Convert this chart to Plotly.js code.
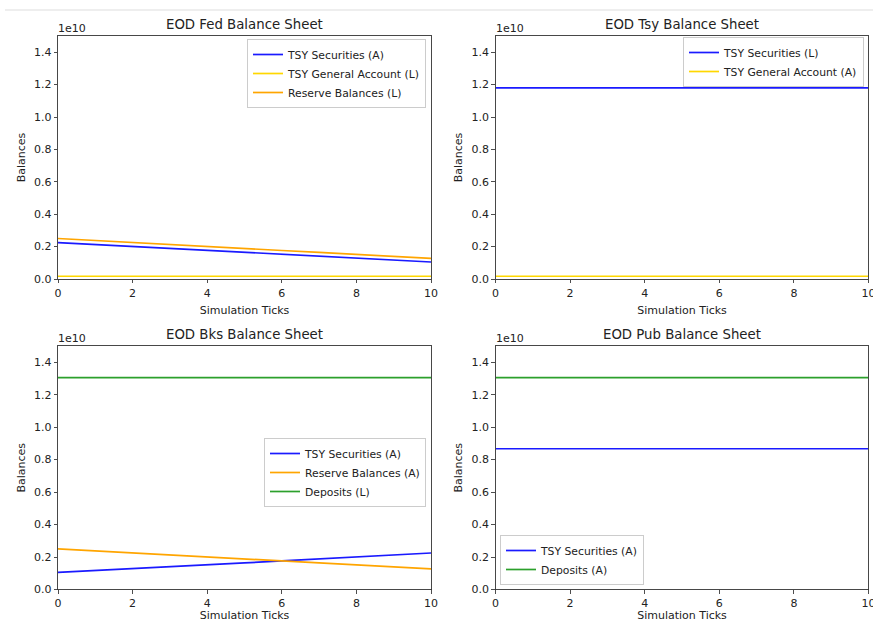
<!DOCTYPE html>
<html>
<head>
<meta charset="utf-8">
<script src="https://cdn.plot.ly/plotly-3.0.1.min.js"></script>
<style>html,body{margin:0;padding:0;background:#fff;}#chart{width:873px;height:622px;}</style>
</head>
<body>
<div id="chart"></div>
<script>
// ---- data ----
const ticks = [0,1,2,3,4,5,6,7,8,9,10];

const fedTsySecurities = [2.25e9,2.13e9,2.01e9,1.89e9,1.76e9,1.64e9,1.52e9,1.40e9,1.28e9,1.16e9,1.05e9];
const fedTga          = [1.7e8,1.7e8,1.7e8,1.7e8,1.7e8,1.7e8,1.7e8,1.7e8,1.7e8,1.7e8,1.7e8];
const fedReserves     = [2.50e9,2.37e9,2.25e9,2.13e9,2.01e9,1.89e9,1.76e9,1.64e9,1.52e9,1.40e9,1.27e9];

const tsyTsySecurities = [1.18e10,1.18e10,1.18e10,1.18e10,1.18e10,1.18e10,1.18e10,1.18e10,1.18e10,1.18e10,1.18e10];
const tsyTga           = [1.7e8,1.7e8,1.7e8,1.7e8,1.7e8,1.7e8,1.7e8,1.7e8,1.7e8,1.7e8,1.7e8];

const bksTsySecurities = [1.05e9,1.16e9,1.28e9,1.40e9,1.52e9,1.64e9,1.76e9,1.89e9,2.01e9,2.13e9,2.25e9];
const bksReserves      = [2.50e9,2.37e9,2.25e9,2.13e9,2.01e9,1.89e9,1.76e9,1.64e9,1.52e9,1.40e9,1.27e9];
const bksDeposits      = [1.305e10,1.305e10,1.305e10,1.305e10,1.305e10,1.305e10,1.305e10,1.305e10,1.305e10,1.305e10,1.305e10];

const pubTsySecurities = [8.67e9,8.67e9,8.67e9,8.67e9,8.67e9,8.67e9,8.67e9,8.67e9,8.67e9,8.67e9,8.67e9];
const pubDeposits      = [1.305e10,1.305e10,1.305e10,1.305e10,1.305e10,1.305e10,1.305e10,1.305e10,1.305e10,1.305e10,1.305e10];

const yTickVals = [0,2e9,4e9,6e9,8e9,10e9,12e9,14e9];
const yTickText = ['0.0','0.2','0.4','0.6','0.8','1.0','1.2','1.4'];
const xTickVals = [0,2,4,6,8,10];
const panelTitles = ['EOD Fed Balance Sheet','EOD Tsy Balance Sheet','EOD Bks Balance Sheet','EOD Pub Balance Sheet'];

// ---- styles ----
const BLUE='#1a1aff', GOLD='#ffd700', ORANGE='#ffa500', GREEN='#2ca02c';
const W=873, H=622;
const FAM='DejaVu Sans, sans-serif', TXT='#222';

function tr(y, name, color, xa, ya, leg){
  return {x:ticks, y:y, name:name, type:'scatter', mode:'lines',
    line:{color:color, width:1.7}, xaxis:xa, yaxis:ya, legend:leg};
}

const data = [
  tr(fedTsySecurities,'TSY Securities (A)',BLUE,'x','y','legend'),
  tr(fedTga,'TSY General Account (L)',GOLD,'x','y','legend'),
  tr(fedReserves,'Reserve Balances (L)',ORANGE,'x','y','legend'),
  tr(tsyTsySecurities,'TSY Securities (L)',BLUE,'x2','y2','legend2'),
  tr(tsyTga,'TSY General Account (A)',GOLD,'x2','y2','legend2'),
  tr(bksTsySecurities,'TSY Securities (A)',BLUE,'x3','y3','legend3'),
  tr(bksReserves,'Reserve Balances (A)',ORANGE,'x3','y3','legend3'),
  tr(bksDeposits,'Deposits (L)',GREEN,'x3','y3','legend3'),
  tr(pubTsySecurities,'TSY Securities (A)',BLUE,'x4','y4','legend4'),
  tr(pubDeposits,'Deposits (A)',GREEN,'x4','y4','legend4')
];

// pixel boxes [left, right, top, bottom]
const boxes = [[58,431,36,279],[495.5,868.5,36,279],[58,431,346,589.5],[495.5,868.5,346,589.5]];

const layout = {
  width:W, height:H, margin:{l:0,r:0,t:0,b:0},
  paper_bgcolor:'#fff', plot_bgcolor:'#fff',
  font:{family:FAM, size:11, color:TXT}, showlegend:true,
  annotations:[], shapes:[
    {type:'line', xref:'paper', yref:'paper', x0:5/W, x1:1, y0:(H-10)/H, y1:(H-10)/H, line:{color:'#dddddd', width:1}}
  ]
};

boxes.forEach((b,i)=>{
  const s = i===0 ? '' : String(i+1);
  const xd=[b[0]/W, b[1]/W], yd=[(H-b[3])/H, (H-b[2])/H];
  layout['xaxis'+s] = {domain:xd, range:[0,10], anchor:'y'+s,
    tickvals:xTickVals, ticks:'outside', ticklen:3.5, tickcolor:TXT, tickwidth:0.8,
    showline:true, linecolor:'#333', linewidth:0.9, mirror:true, showgrid:false, zeroline:false,
    tickfont:{family:FAM,size:11,color:TXT}, ticklabeloverflow:'allow',
    title:{text:'Simulation Ticks', font:{family:FAM,size:11,color:TXT}, standoff:7},
    fixedrange:true};
  layout['yaxis'+s] = {domain:yd, range:[0,1.5e10], anchor:'x'+s,
    tickvals:yTickVals, ticktext:yTickText, ticks:'outside', ticklen:3.5, tickcolor:TXT, tickwidth:0.8,
    showline:true, linecolor:'#333', linewidth:0.9, mirror:true, showgrid:false, zeroline:false,
    tickfont:{family:FAM,size:11,color:TXT},
    title:{text:'Balances', font:{family:FAM,size:11,color:TXT}, standoff:6},
    fixedrange:true};
  layout.annotations.push({text:panelTitles[i], xref:'paper', yref:'paper',
    x:(b[0]+b[1])/2/W, y:(H-b[2]+2)/H, xanchor:'center', yanchor:'bottom', showarrow:false,
    font:{family:FAM,size:13.3,color:TXT}});
  layout.annotations.push({text:'1e10', xref:'paper', yref:'paper',
    x:(b[0]-2)/W, y:(H-b[2]-1)/H, xanchor:'left', yanchor:'bottom', showarrow:false,
    font:{family:FAM,size:11,color:TXT}});
});

const legBase = {bgcolor:'rgba(255,255,255,0.8)', bordercolor:'#cccccc', borderwidth:1,
  font:{family:FAM,size:10.8,color:TXT}, tracegroupgap:0, itemwidth:30};
layout.legend  = Object.assign({}, legBase, {x:426/W, y:(H-39)/H, xanchor:'right', yanchor:'top'});
layout.legend2 = Object.assign({}, legBase, {x:864/W, y:(H-37)/H, xanchor:'right', yanchor:'top'});
layout.legend3 = Object.assign({}, legBase, {x:426/W, y:(H-438)/H, xanchor:'right', yanchor:'top'});
layout.legend4 = Object.assign({}, legBase, {x:500/W, y:(H-585)/H, xanchor:'left', yanchor:'bottom'});

Plotly.newPlot('chart', data, layout, {displayModeBar:false, staticPlot:true});
</script>
</body>
</html>
